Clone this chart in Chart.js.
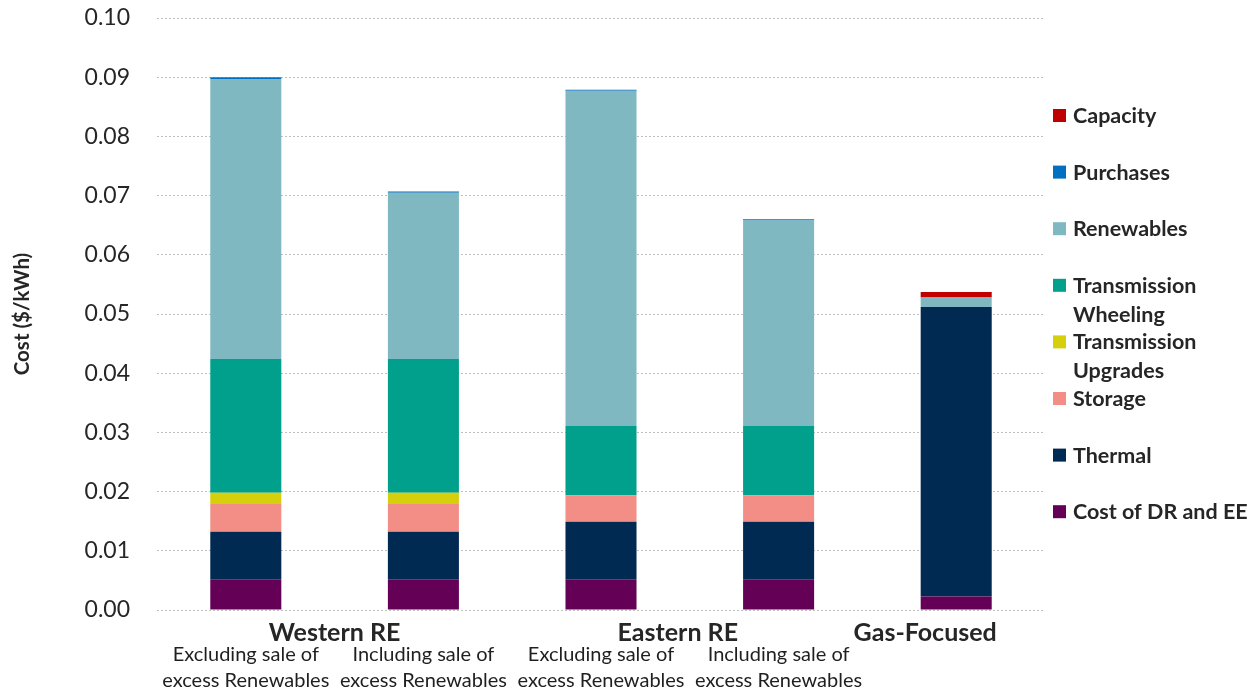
<!DOCTYPE html>
<html>
<head>
<meta charset="utf-8">
<script src="https://cdn.jsdelivr.net/npm/chart.js@4.4.1/dist/chart.umd.min.js"></script>
<style>
  html, body { margin: 0; padding: 0; background: #ffffff; }
  #wrap { width: 1260px; height: 698px; position: relative; }
</style>
</head>
<body>
<div id="wrap"><canvas id="c" width="1260" height="698"></canvas></div>
<script>
// ---- data ----
const subLabels = [
  ["Excluding sale of", "excess Renewables"],
  ["Including sale of", "excess Renewables"],
  ["Excluding sale of", "excess Renewables"],
  ["Including sale of", "excess Renewables"],
  [""]
];
const groupNames = ["Western RE", "Eastern RE", "Gas-Focused"];
const groupFirst = [0, 2, 4];
const groupLast = [1, 3, 4];

const seriesNames = ["Cost of DR and EE", "Thermal", "Storage", "Transmission Upgrades",
  "Transmission Wheeling", "Renewables", "Purchases", "Capacity"];

const drEE        = [0.0052, 0.0052, 0.0052, 0.0052, 0.0023];
const thermal     = [0.0080, 0.0080, 0.0097, 0.0097, 0.0489];
const storage     = [0.0047, 0.0047, 0.0045, 0.0045, 0];
const txUpgrades  = [0.0019, 0.0019, 0, 0, 0];
const txWheeling  = [0.0226, 0.0226, 0.0117, 0.0117, 0];
const renewables  = [0.0473, 0.0281, 0.0566, 0.0347, 0.0016];
const purchases   = [0.0003, 0.0002, 0.0002, 0.0002, 0];
const capacity    = [0, 0, 0, 0, 0.0009];

const yTicks = [0, 0.01, 0.02, 0.03, 0.04, 0.05, 0.06, 0.07, 0.08, 0.09, 0.10];

// ---- styles ----
const colors = ["#650057", "#002A52", "#F28E85", "#D6CF0B", "#00A08C", "#80B8C2", "#0070C0", "#C00000"];
const seriesValues = [drEE, thermal, storage, txUpgrades, txWheeling, renewables, purchases, capacity];
const textColor = "#262626";
const FONT = "Lato, 'Open Sans', sans-serif";

const datasets = seriesNames.map((name, i) => ({
  label: name,
  data: seriesValues[i],
  backgroundColor: colors[i],
  borderWidth: 0,
  categoryPercentage: 0.8,
  barPercentage: 0.5
}));

const groupLabelPlugin = {
  id: 'groupLabels',
  afterDraw(chart) {
    const ctx = chart.ctx;
    const x = chart.scales.x;
    const nudge = [0, -12, -31];
    ctx.save();
    ctx.fillStyle = textColor;
    ctx.font = "bold 25px " + FONT;
    ctx.textAlign = "center";
    ctx.textBaseline = "middle";
    groupNames.forEach((g, i) => {
      const cx = (x.getPixelForValue(groupFirst[i]) + x.getPixelForValue(groupLast[i])) / 2 + nudge[i];
      ctx.fillText(g, cx, chart.chartArea.bottom + 23);
    });
    ctx.restore();
  }
};

const sideLegendPlugin = {
  id: 'sideLegend',
  afterDraw(chart) {
    const ctx = chart.ctx;
    const left = chart.chartArea.right + 8;
    const startY = 116, step = 56.6, lineH = 29, maxW = 185;
    ctx.save();
    ctx.font = "bold 21.5px " + FONT;
    ctx.textBaseline = "middle";
    ctx.textAlign = "left";
    const ds = chart.data.datasets.slice().reverse();
    ds.forEach((d, i) => {
      const y = startY + i * step;
      ctx.fillStyle = d.backgroundColor;
      ctx.fillRect(left, y - 7, 13, 13);
      const words = d.label.split(" ");
      const lines = [];
      let cur = "";
      words.forEach(w => {
        const t = cur ? cur + " " + w : w;
        if (ctx.measureText(t).width > maxW && cur) { lines.push(cur); cur = w; }
        else cur = t;
      });
      lines.push(cur);
      ctx.fillStyle = textColor;
      lines.forEach((ln, k) => ctx.fillText(ln, left + 20, y + k * lineH));
    });
    ctx.restore();
  }
};

new Chart(document.getElementById('c'), {
  type: 'bar',
  data: { labels: subLabels, datasets },
  options: {
    responsive: false,
    animation: false,
    layout: { padding: { top: 18, right: 215, bottom: 0, left: 0 } },
    plugins: {
      legend: { display: false },
      tooltip: { enabled: false }
    },
    scales: {
      x: {
        stacked: true,
        grid: { display: false },
        border: { display: false },
        ticks: {
          color: "#1f1f1f",
          font: { family: FONT, size: 20, lineHeight: 1.3 },
          padding: 24,
          maxRotation: 0,
          autoSkip: false
        },
        afterFit(scale) { scale.height = 88; }
      },
      y: {
        stacked: true,
        min: 0,
        max: 0.10,
        afterBuildTicks(scale) { scale.ticks = yTicks.map(v => ({ value: v })); },
        grid: { color: "#BFBFBF", lineWidth: 1, drawTicks: true, tickLength: 27, tickColor: "rgba(0,0,0,0)" },
        border: { display: false, dash: [2, 2] },
        ticks: {
          color: textColor,
          font: { family: FONT, size: 23 },
          padding: 0,
          callback: v => Number(v).toFixed(2)
        },
        title: {
          display: true,
          text: "Cost ($/kWh)",
          color: textColor,
          font: { family: FONT, size: 20.5, weight: 'bold' },
          padding: { top: 10, bottom: 0 }
        },
        afterFit(scale) { scale.width = 157; }
      }
    }
  },
  plugins: [groupLabelPlugin, sideLegendPlugin]
});
</script>
</body>
</html>
